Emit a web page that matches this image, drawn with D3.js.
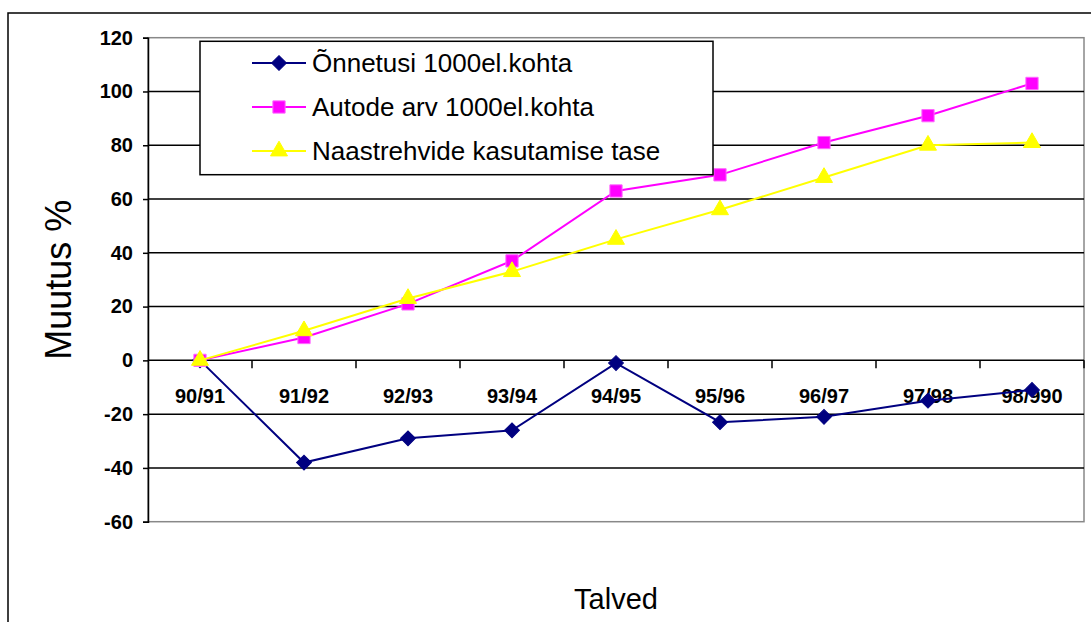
<!DOCTYPE html>
<html>
<head>
<meta charset="utf-8">
<script src="https://cdn.jsdelivr.net/npm/d3@7"></script>
<style>
  html, body { margin: 0; padding: 0; background: #fff; }
  svg { display: block; font-family: "Liberation Sans", Arial, sans-serif; }
</style>
</head>
<body>
<svg id="chart" width="1091" height="622"></svg>
<script>
// Winter seasons
const categories = ["90/91", "91/92", "92/93", "93/94", "94/95", "95/96", "96/97", "97/98", "98/990"];

// Change in % relative to 90/91
const accidents = [0, -38, -29, -26, -1, -23, -21, -15, -11];      // Õnnetusi 1000el.kohta
const cars      = [0, 8.5, 21, 37, 63, 69, 81, 91, 103];          // Autode arv 1000el.kohta
const studded   = [0, 11, 23, 33, 45, 56, 68, 80, 81];            // Naastrehvide kasutamise tase

const yTicks = [-60, -40, -20, 0, 20, 40, 60, 80, 100, 120];

const seriesList = [
  { name: "Õnnetusi 1000el.kohta", values: accidents, color: "#000080", symbol: "diamond" },
  { name: "Autode arv 1000el.kohta", values: cars, color: "#FF00FF", symbol: "square" },
  { name: "Naastrehvide kasutamise tase", values: studded, color: "#FFFF00", symbol: "triangle" }
];

const svg = d3.select("#chart");
const plotLeft = 148, plotRight = 1084, plotTop = 37.7, plotBottom = 521.7;

const x = d3.scaleBand().domain(categories).range([plotLeft, plotRight]).paddingInner(0).paddingOuter(0);
const y = d3.scaleLinear().domain([-60, 120]).range([plotBottom, plotTop]);
const cx = d => x(d) + x.bandwidth() / 2;

// outer chart frame
svg.append("rect")
  .attr("x", 8).attr("y", 13).attr("width", 1200).attr("height", 700)
  .attr("fill", "#fff").attr("stroke", "#000").attr("stroke-width", 1.5);

// plot area frame
svg.append("rect")
  .attr("x", plotLeft).attr("y", plotTop).attr("width", plotRight - plotLeft).attr("height", plotBottom - plotTop)
  .attr("fill", "#fff").attr("stroke", "#888").attr("stroke-width", 1.5);

// horizontal gridlines
svg.append("g").selectAll("line")
  .data(yTicks.filter(v => v > -60 && v < 120 && v !== 0))
  .join("line")
  .attr("x1", plotLeft).attr("x2", plotRight)
  .attr("y1", d => y(d)).attr("y2", d => y(d))
  .attr("stroke", "#000").attr("stroke-width", 1.5);

// value axis (plain hyphen for negatives)
const yAxis = d3.axisLeft(y).tickValues(yTicks).tickSize(5).tickPadding(10).tickFormat(d => String(d));
const gy = svg.append("g").attr("transform", `translate(${plotLeft},0)`).call(yAxis);
gy.select(".domain").attr("stroke", "#000").attr("stroke-width", 1.5);
gy.selectAll(".tick line").attr("stroke", "#000").attr("stroke-width", 1.5);
gy.selectAll(".tick text")
  .attr("font-size", 20).attr("font-weight", "bold").attr("fill", "#000")
  .attr("font-family", "Liberation Sans, Arial, sans-serif");

// category axis on the zero line
const gx = svg.append("g").attr("transform", `translate(0,${y(0)})`);
gx.append("line").attr("x1", plotLeft).attr("x2", plotRight).attr("y1", 0).attr("y2", 0)
  .attr("stroke", "#000").attr("stroke-width", 1.5);
gx.selectAll("line.tk")
  .data(categories.slice(1).concat(["__end"]))
  .join("line").attr("class", "tk")
  .attr("x1", (d, i) => plotLeft + (i + 1) * x.bandwidth())
  .attr("x2", (d, i) => plotLeft + (i + 1) * x.bandwidth())
  .attr("y1", 0).attr("y2", 8)
  .attr("stroke", "#000").attr("stroke-width", 1.5);
gx.selectAll("text")
  .data(categories)
  .join("text")
  .attr("x", d => cx(d)).attr("y", 43)
  .attr("text-anchor", "middle")
  .attr("font-size", 20).attr("font-weight", "bold").attr("fill", "#000")
  .text(d => d);

// lines and markers
const line = d3.line().x((d, i) => cx(categories[i])).y(d => y(d));
const symbolType = { diamond: d3.symbolSquare, square: d3.symbolSquare, triangle: d3.symbolTriangle };
const symbolSize = { diamond: 110, square: 150, triangle: 125 };

function drawMarker(g, s, px, py) {
  g.append("path")
    .attr("d", d3.symbol().type(symbolType[s.symbol]).size(symbolSize[s.symbol])())
    .attr("transform", `translate(${px},${py})` + (s.symbol === "diamond" ? " rotate(45)" : ""))
    .attr("fill", s.color)
    .attr("stroke", s.symbol === "square" ? "#ff66ff" : s.color)
    .attr("stroke-width", 1);
}

seriesList.forEach(s => {
  const g = svg.append("g");
  g.append("path").datum(s.values)
    .attr("d", line).attr("fill", "none")
    .attr("stroke", s.color).attr("stroke-width", 2);
  s.values.forEach((v, i) => drawMarker(g, s, cx(categories[i]), y(v)));
});

// axis titles
svg.append("text")
  .attr("transform", `translate(71,${(plotTop + plotBottom) / 2}) rotate(-90)`)
  .attr("text-anchor", "middle")
  .attr("font-size", 36).attr("fill", "#000")
  .text("Muutus %");

svg.append("text")
  .attr("x", (plotLeft + plotRight) / 2).attr("y", 609)
  .attr("text-anchor", "middle")
  .attr("font-size", 29).attr("fill", "#000")
  .text("Talved");

// legend
const lg = svg.append("g");
lg.append("rect")
  .attr("x", 200).attr("y", 41.3).attr("width", 513).attr("height", 133.4)
  .attr("fill", "#fff").attr("stroke", "#000").attr("stroke-width", 1.5);
seriesList.forEach((s, i) => {
  const ry = 63 + i * 44;
  lg.append("line").attr("x1", 252).attr("x2", 306).attr("y1", ry).attr("y2", ry)
    .attr("stroke", s.color).attr("stroke-width", 2);
  drawMarker(lg, s, 279, ry);
  lg.append("text")
    .attr("x", 312).attr("y", ry + 9)
    .attr("font-size", 26).attr("fill", "#000")
    .text(s.name);
});
</script>
</body>
</html>
